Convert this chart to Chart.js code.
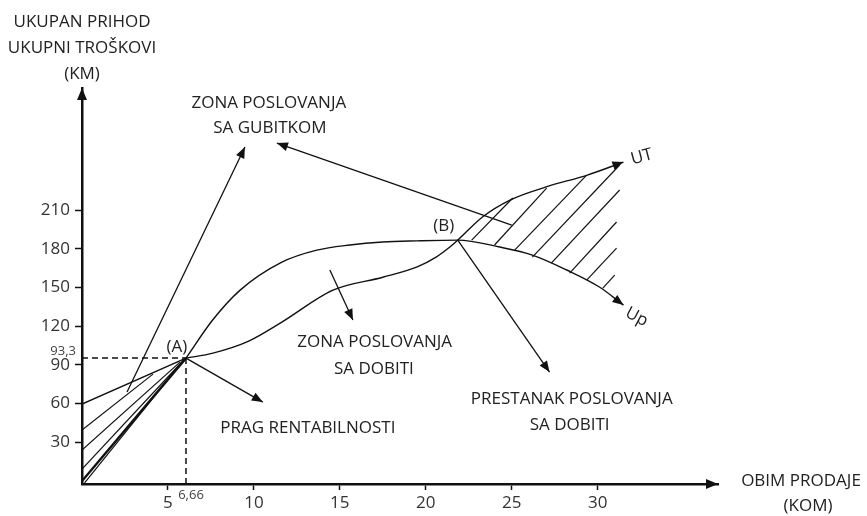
<!DOCTYPE html>
<html>
<head>
<meta charset="utf-8">
<script src="https://cdn.jsdelivr.net/npm/chart.js@4.4.1/dist/chart.umd.min.js"></script>
<style>
  html, body { margin: 0; padding: 0; background: #fff; }
  #wrap { width: 867px; height: 516px; position: relative; }
</style>
</head>
<body>
<div id="wrap"><canvas id="chart"></canvas></div>
<script>
// axis ticks
const xTicks = [5, 10, 15, 20, 25, 30];
const yTicks = [30, 60, 90, 120, 150, 180, 210];

// break-even points (as drawn)
const pointA = [6.05, 95.3];
const pointB = [21.86, 186.8];

// UP - ukupan prihod
const revenueStart = [[0, 0], pointA];
const revenueCurve = [pointA, [7.6, 124.8], [9.2, 148], [11.6, 169.5], [13.66, 179], [15.58, 183],
  [17.5, 185.3], [19.48, 186.2], pointB, [24.3, 181.4], [26.2, 175.2], [28.2, 163.6], [30.1, 150.4], [31.5, 136.4]];

// UT - ukupni troskovi
const costStart = [[0, 59.7], pointA];
const costCurve = [pointA, [7.62, 99.2], [9.7, 108.5], [11.6, 123], [14.6, 148], [17.5, 158], [19.5, 166],
  [20.6, 173.6], [21.4, 181.4], pointB, [23.3, 204.7], [24.9, 217.8], [27.0, 228], [29.4, 237.2], [31.5, 247.3]];

// hatching
const lossHatch = [
  [[0, 39.5], [4.13, 82.9]],
  [[0, 24], [5.7, 92.2]],
  [[0, 9.3], [6.0, 95.0]],
  [[0.15, -1.5], [5.95, 94.3]]
];
const profitHatch = [
  [[22.67, 186.8], [25.06, 219.4]],
  [[24.0, 183], [27.03, 227.1]],
  [[25.17, 179], [29.36, 237.2]],
  [[26.2, 173.6], [31.28, 245]],
  [[27.3, 169], [31.28, 225.6]],
  [[28.37, 161.2], [31.1, 200.8]],
  [[29.36, 155.8], [31.1, 180.6]],
  [[30.3, 149.6], [30.99, 159.7]]
];

// pointer arrows
const pointers = [
  [[2.62, 69], [9.48, 258.9]],
  [[25.0, 198.4], [11.34, 262]],
  [pointA, [10.52, 61.2]],
  [[14.42, 163.6], [15.76, 124.8]],
  [pointB, [27.2, 84.5]]
];

// dashed guides to A
const guideH = [[0, pointA[1]], pointA];
const guideV = [pointA, [pointA[0], -2.3]];

const notes = [
  { text: 'ZONA POSLOVANJA', at: [10.87, 293] },
  { text: 'SA GUBITKOM', at: [10.93, 273.6] },
  { text: '(A)', at: [5.52, 103.9] },
  { text: '(B)', at: [21.05, 197.7] },
  { text: 'ZONA POSLOVANJA', at: [17.03, 107.8] },
  { text: 'SA DOBITI', at: [16.98, 86.8] },
  { text: 'PRAG RENTABILNOSTI', at: [13.14, 41.1] },
  { text: 'PRESTANAK POSLOVANJA', at: [28.49, 63.6] },
  { text: 'SA DOBITI', at: [28.37, 43.4] },
  { text: 'UT', at: [32.56, 251.2], rot: -15 },
  { text: 'Up', at: [32.27, 127.1], rot: 28 }
];

const INK = '#111';
const FONT = '"Open Sans", sans-serif';

function seg(points, extra) {
  return Object.assign({
    data: points.map(([x, y]) => ({ x, y })),
    showLine: true,
    pointRadius: 0,
    borderColor: INK,
    borderWidth: 1.4,
    tension: 0,
    fill: false
  }, extra || {});
}

const datasets = [
  seg(revenueStart, { borderWidth: 2.4 }),
  seg(revenueCurve, { cubicInterpolationMode: 'monotone', arrowHead: true }),
  seg(costStart),
  seg(costCurve, { cubicInterpolationMode: 'monotone', arrowHead: true }),
  ...lossHatch.map(h => seg(h, { borderWidth: 1.2 })),
  ...profitHatch.map(h => seg(h, { borderWidth: 1.2 })),
  ...pointers.map(p => seg(p, { borderWidth: 1.3, arrowHead: true })),
  seg(guideH, { borderDash: [6, 4], borderWidth: 1.5 }),
  seg(guideV, { borderDash: [6, 4], borderWidth: 1.5 })
];

function arrow(ctx, x0, y0, x1, y1, len, half) {
  const a = Math.atan2(y1 - y0, x1 - x0);
  ctx.save();
  ctx.translate(x1, y1);
  ctx.rotate(a);
  ctx.beginPath();
  ctx.moveTo(0, 0);
  ctx.lineTo(-len, -half);
  ctx.lineTo(-len, half);
  ctx.closePath();
  ctx.fillStyle = INK;
  ctx.fill();
  ctx.restore();
}

const extras = {
  id: 'extras',
  afterDatasetsDraw(chart) {
    const { ctx, chartArea: ca, scales: { x, y } } = chart;
    chart.data.datasets.forEach((ds, i) => {
      if (!ds.arrowHead) return;
      const pts = chart.getDatasetMeta(i).data;
      const p1 = pts[pts.length - 1], p0 = pts[pts.length - 2];
      arrow(ctx, p0.x, p0.y, p1.x, p1.y, 11, 4.5);
    });
    // axis arrows
    arrow(ctx, ca.left, ca.bottom, ca.left, ca.top, 12, 5);
    arrow(ctx, ca.left, ca.bottom, ca.right, ca.bottom, 12, 5);

    ctx.save();
    ctx.fillStyle = '#222';
    ctx.textAlign = 'center';
    ctx.textBaseline = 'middle';
    ctx.font = '17px ' + FONT;
    notes.forEach(n => {
      ctx.save();
      ctx.translate(x.getPixelForValue(n.at[0]), y.getPixelForValue(n.at[1]));
      if (n.rot) ctx.rotate(n.rot * Math.PI / 180);
      ctx.fillText(n.text, 0, 0);
      ctx.restore();
    });
    // axis titles
    ctx.fillText('UKUPAN PRIHOD', ca.left, ca.top - 66);
    ctx.fillText('UKUPNI TROŠKOVI', ca.left, ca.top - 40);
    ctx.fillText('(KM)', ca.left, ca.top - 14);
    ctx.fillText('OBIM PRODAJE', ca.right + 83, ca.bottom - 3);
    ctx.fillText('(KOM)', ca.right + 90, ca.bottom + 22);
    // break-even values
    ctx.font = '13px ' + FONT;
    ctx.fillStyle = '#444';
    ctx.textAlign = 'right';
    ctx.fillText('93,3', ca.left - 6, y.getPixelForValue(pointA[1]) - 7);
    ctx.textAlign = 'center';
    ctx.fillText('6,66', x.getPixelForValue(pointA[0]) + 5, ca.bottom + 11);
    ctx.restore();
  }
};

new Chart(document.getElementById('chart'), {
  type: 'scatter',
  data: { datasets },
  options: {
    responsive: true,
    maintainAspectRatio: false,
    animation: false,
    layout: { padding: { top: 88, right: 149, left: 0, bottom: 0 } },
    plugins: { legend: { display: false }, tooltip: { enabled: false } },
    events: [],
    scales: {
      x: {
        type: 'linear',
        min: 0,
        max: 37,
        afterBuildTicks: s => { s.ticks = xTicks.map(v => ({ value: v })); },
        afterFit: s => { s.height = 32; },
        grid: { drawOnChartArea: false, tickLength: 6, tickColor: INK, tickWidth: 1.5 },
        border: { color: INK, width: 2.5 },
        ticks: { color: '#333', font: { family: FONT, size: 17 }, padding: 3, maxRotation: 0, autoSkip: false }
      },
      y: {
        type: 'linear',
        min: -2.3,
        max: 304.7,
        afterBuildTicks: s => { s.ticks = yTicks.map(v => ({ value: v })); },
        afterFit: s => { s.width = 82; },
        grid: { drawOnChartArea: false, tickLength: 7, tickColor: INK, tickWidth: 1.5 },
        border: { color: INK, width: 2.5 },
        ticks: { color: '#333', font: { family: FONT, size: 17 }, padding: 5, autoSkip: false }
      }
    }
  },
  plugins: [extras]
});
</script>
</body>
</html>
